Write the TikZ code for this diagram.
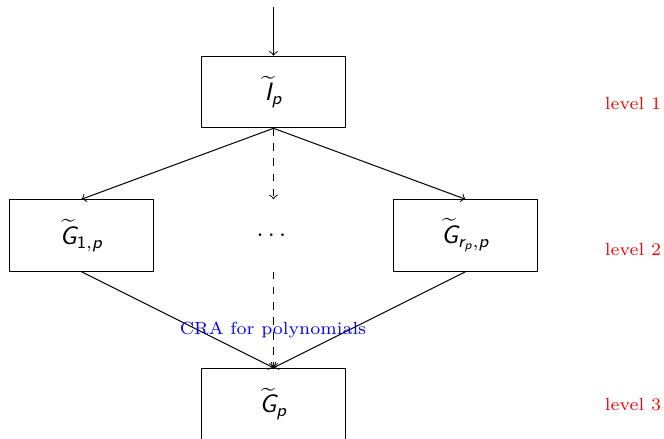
\documentclass[tikz,border=0pt]{standalone}
\usepackage{amsmath}
\newcommand\sfit[1]{\text{\sffamily\itshape #1}}
\newcommand\sfup[1]{\text{\sffamily #1}}
\begin{document}
\begin{tikzpicture}[x=0.3976pt,y=-0.3976pt,
  box/.style={draw,minimum width=2cm,minimum height=1cm,inner sep=0pt},
  ghost/.style={minimum width=2cm,minimum height=1cm,inner sep=0pt},
  lvl/.style={text=red,font=\scriptsize},
  conn/.style={->},
  dconn/.style={->,dashed}]
\useasboundingbox (0,0) rectangle (664,438);
\clip (0,0) rectangle (664,438);
\node[box] (I) at (273.5,92) {$\widetilde{\sfit{I}}_{\sfit{p}}$};
\node[box] (G1) at (81.5,235.5) {$\widetilde{\sfit{G}}_{\sfup{1},\sfit{p}}$};
\node[ghost] (D) at (273.5,235.5) {$\cdots$};
\node[box] (Gr) at (465.5,235.5) {$\widetilde{\sfit{G}}_{\sfit{r}_{\sfit{p}},\sfit{p}}$};
\node[box] (G) at (273.5,404) {$\widetilde{\sfit{G}}_{\sfit{p}}$};
\coordinate (in) at (273.5,7);
\draw[conn] (in) -- (I.north);
\draw[conn] (I.south) -- (G1.north);
\draw[conn] (I.south) -- (Gr.north);
\draw[dconn] (I.south) -- (D.north);
\draw[conn] (G1.south) -- (G.north);
\draw[conn] (Gr.south) -- (G.north);
\draw[dconn] (D.south) -- (G.north);
\node[text=blue,font=\scriptsize] (cra) at (273,330) {CRA for polynomials};
\node[lvl] (l1) at (633,103) {level 1};
\node[lvl] (l2) at (633,249) {level 2};
\node[lvl] (l3) at (633,405) {level 3};
\end{tikzpicture}
\end{document}
